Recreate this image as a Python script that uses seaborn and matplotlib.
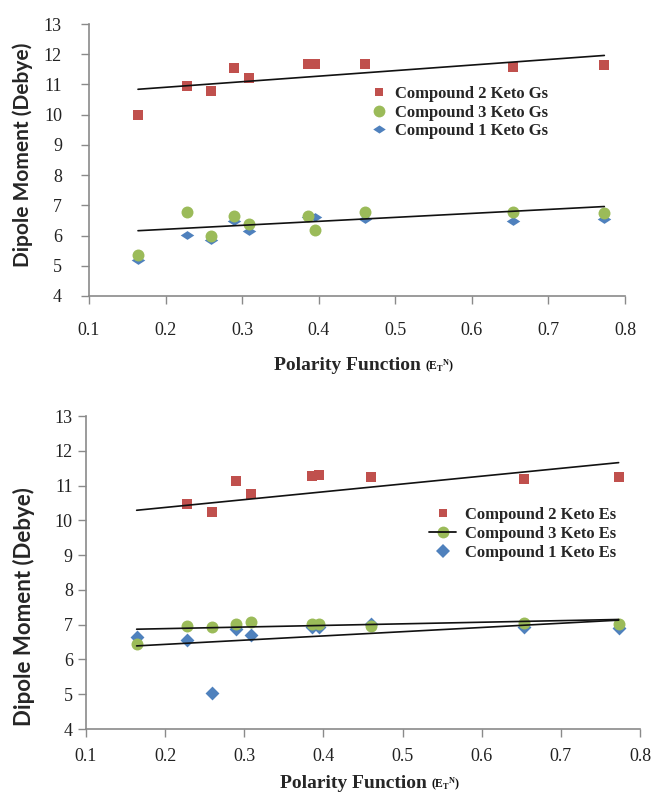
import numpy as np
import matplotlib
matplotlib.use("Agg")
import matplotlib.pyplot as plt
from matplotlib.lines import Line2D
from matplotlib.path import Path
import seaborn as sns

# solvent polarity E_T^N
polarity = [0.164, 0.228, 0.259, 0.290, 0.309, 0.386, 0.395, 0.460, 0.654, 0.773]

# ground state dipole moments (Debye)
c2_gs = [9.98, 10.96, 10.77, 11.54, 11.22, 11.67, 11.69, 11.67, 11.58, 11.63]
c3_gs = [5.36, 6.77, 6.00, 6.66, 6.39, 6.65, 6.19, 6.77, 6.77, 6.76]
c1_gs = [5.20, 6.01, 5.84, 6.48, 6.16, 6.60, 6.62, 6.54, 6.49, 6.54]

# excited state dipole moments (Debye)
c2_es = [np.nan, 10.46, 10.24, 11.13, 10.75, 11.28, 11.30, 11.26, 11.19, 11.24]
c3_es = [6.45, 6.97, 6.93, 7.02, 7.07, 7.02, 7.02, 6.97, 7.04, 7.01]
c1_es = [6.65, 6.55, 5.04, 6.87, 6.70, 6.92, 6.94, 7.02, 6.94, 6.90]

# trend lines as drawn in the original (ends at first / last solvent)
trend_x = [0.164, 0.773]
gs_trend_c2 = [10.84, 11.96]
gs_trend_c3 = [6.16, 6.96]
es_trend_c2 = [10.29, 11.66]
es_trend_c3 = [6.39, 7.13]
es_trend_c1 = [6.87, 7.15]

x_ticks = [0.1, 0.2, 0.3, 0.4, 0.5, 0.6, 0.7, 0.8]
y_ticks = [4, 5, 6, 7, 8, 9, 10, 11, 12, 13]

sns.set_style("ticks")
plt.rcParams["font.family"] = ["Liberation Serif", "DejaVu Sans"]
plt.rcParams["mathtext.fontset"] = "custom"
plt.rcParams["mathtext.rm"] = "Liberation Serif"
plt.rcParams["mathtext.bf"] = "Liberation Serif:bold"

RED, GREEN, BLUE = "#C0504D", "#9BBB59", "#4F81BD"
AXCOL = "#8a8a8a"
wide_diamond = Path([(-1, 0), (0, 0.65), (1, 0), (0, -0.65), (-1, 0)], closed=True)

fig = plt.figure(figsize=(6.52, 7.95), dpi=100)
ax1 = fig.add_axes([0.1365, 0.6277, 0.8221, 0.3421])
ax2 = fig.add_axes([0.1319, 0.0830, 0.8497, 0.3937])


def style_axes(ax, xpad, ypad, ylab_xy, ylab_size, xlab_xy):
    sns.despine(ax=ax)
    ax.set_xlim(0.1, 0.8)
    ax.set_ylim(4, 13)
    ax.set_xticks(x_ticks)
    ax.set_xticklabels([str(t) for t in x_ticks])
    ax.set_yticks(y_ticks)
    for s in ["left", "bottom"]:
        ax.spines[s].set_color(AXCOL)
        ax.spines[s].set_linewidth(1.2)
    ax.tick_params(axis="x", length=5.5, width=1, color=AXCOL, pad=xpad,
                   labelsize=13, labelcolor="#222222")
    ax.tick_params(axis="y", length=5.5, width=1, color=AXCOL, pad=ypad,
                   labelsize=13, labelcolor="#222222")
    ax.set_ylabel("Dipole Moment (Debye)", family=["Lato", "DejaVu Sans"],
                  fontweight="bold", fontsize=ylab_size, va="center")
    ax.yaxis.set_label_coords(*ylab_xy)
    ax.set_xlabel("Polarity Function", fontweight="bold", fontsize=14,
                  ha="left", va="center")
    ax.xaxis.set_label_coords(*xlab_xy)
    ax.annotate(r"$\mathbf{(E_T{}^N)}$", xy=(1, 0), xycoords=ax.xaxis.label,
                xytext=(3, -1), textcoords="offset points", ha="left",
                va="bottom", fontsize=8.5, color="#111111")


# ---- top panel: ground state ----
sns.scatterplot(x=polarity, y=c1_gs, marker=wide_diamond, s=95, color=BLUE,
                linewidth=0, ax=ax1, zorder=2)
sns.scatterplot(x=polarity, y=c3_gs, marker="o", s=74, color=GREEN,
                linewidth=0, ax=ax1, zorder=3)
sns.scatterplot(x=polarity, y=c2_gs, marker="s", s=44, color=RED,
                linewidth=0, ax=ax1, zorder=3)
for tr in [gs_trend_c2, gs_trend_c3]:
    sns.lineplot(x=trend_x, y=tr, color="#111111", linewidth=1.2, ax=ax1, zorder=4)

style_axes(ax1, xpad=13, ypad=14, ylab_xy=(-0.123, 0.52), ylab_size=15,
           xlab_xy=(0.345, -0.254))

h_top = [
    Line2D([], [], marker="s", color=RED, linestyle="none", markersize=6, markeredgewidth=0),
    Line2D([], [], marker="o", color=GREEN, linestyle="none", markersize=8.5, markeredgewidth=0),
    Line2D([], [], marker=wide_diamond, color=BLUE, linestyle="none", markersize=9, markeredgewidth=0),
]
ax1.legend(h_top, ["Compound 2 Keto Gs", "Compound 3 Keto Gs", "Compound 1 Keto Gs"],
           loc="upper left", bbox_to_anchor=(0.522, 0.772), frameon=False,
           prop={"weight": "bold", "size": 12}, borderpad=0, borderaxespad=0,
           handlelength=1.2, handletextpad=0.36, labelspacing=0.15)

# ---- bottom panel: excited state ----
sns.scatterplot(x=polarity, y=c1_es, marker="D", s=50, color=BLUE,
                linewidth=0, ax=ax2, zorder=2)
sns.scatterplot(x=polarity, y=c3_es, marker="o", s=74, color=GREEN,
                linewidth=0, ax=ax2, zorder=3)
sns.scatterplot(x=polarity, y=c2_es, marker="s", s=44, color=RED,
                linewidth=0, ax=ax2, zorder=3)
for tr in [es_trend_c2, es_trend_c3, es_trend_c1]:
    sns.lineplot(x=trend_x, y=tr, color="#111111", linewidth=1.2, ax=ax2, zorder=4)

style_axes(ax2, xpad=8, ypad=4, ylab_xy=(-0.112, 0.39), ylab_size=16,
           xlab_xy=(0.350, -0.1725))

h_bot = [
    Line2D([], [], marker="s", color=RED, linestyle="none", markersize=6, markeredgewidth=0),
    (Line2D([], [], marker="o", color=GREEN, linestyle="none", markersize=8.5, markeredgewidth=0),
     Line2D([], [], color="#111111", linewidth=1.3)),
    Line2D([], [], marker="D", color=BLUE, linestyle="none", markersize=7, markeredgewidth=0),
]
ax2.legend(h_bot, ["Compound 2 Keto Es", "Compound 3 Keto Es", "Compound 1 Keto Es"],
           loc="upper left", bbox_to_anchor=(0.620, 0.709), frameon=False,
           prop={"weight": "bold", "size": 12}, borderpad=0, borderaxespad=0,
           handlelength=1.6, handletextpad=0.52, labelspacing=0.18)

fig.savefig("out.png", dpi=100)
